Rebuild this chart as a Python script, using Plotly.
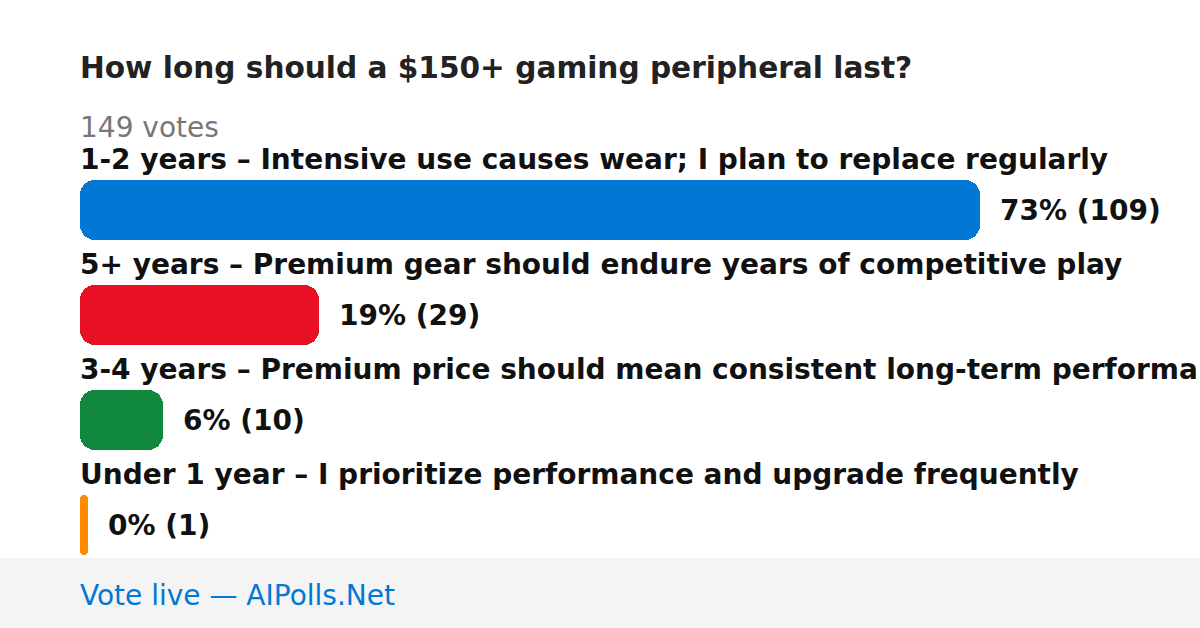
import plotly.graph_objects as go

title = "How long should a $150+ gaming peripheral last?"
total_votes = 149
labels = [
    "1-2 years – Intensive use causes wear; I plan to replace regularly",
    "5+ years – Premium gear should endure years of competitive play",
    "3-4 years – Premium price should mean consistent long-term performance",
    "Under 1 year – I prioritize performance and upgrade frequently",
]
votes = [109, 29, 10, 1]
percents = [73, 19, 6, 0]
colors = ["#0078d4", "#e81123", "#10893e", "#ff8c00"]
footer_text = "Vote live — AIPolls.Net"

W, H = 1200, 628
left = 80
bar_full_px = 900
row_px = 105
first_center_px = 210
bar_px = 60
label_offset_px = 51
pad_fix = -2

max_v = max(votes)
plot_w = W - left
x_max = max_v * plot_w / bar_full_px
ys = list(range(len(votes)))
y_top = -first_center_px / row_px
y_bot = (H - first_center_px) / row_px
thick = bar_px / row_px

fig = go.Figure()
fig.add_trace(go.Bar(
    y=ys, x=votes, base=[0] * len(votes), orientation="h", width=thick,
    marker=dict(color=colors, line=dict(width=0), cornerradius=15),
    hoverinfo="skip", showlegend=False,
))

FONT = "DejaVu Sans"
annotations = []
for i, (lab, v, p) in enumerate(zip(labels, votes, percents)):
    annotations.append(dict(
        x=0, y=i - label_offset_px / row_px, xref="x", yref="y", xshift=pad_fix,
        text=lab, showarrow=False, xanchor="left", yanchor="middle",
        font=dict(family=FONT, size=28, color="#111111", weight="bold"),
    ))
    annotations.append(dict(
        x=v, y=i, xref="x", yref="y", xshift=20 + pad_fix,
        text=f"{p}% ({v})", showarrow=False, xanchor="left", yanchor="middle",
        font=dict(family=FONT, size=28, color="#111111", weight="bold"),
    ))

annotations.append(dict(
    x=0, y=1 - 68 / H, xref="paper", yref="paper", xshift=pad_fix,
    text=title, showarrow=False, xanchor="left", yanchor="middle",
    font=dict(family=FONT, size=29.6, color="#222222", weight="bold"),
))
annotations.append(dict(
    x=0, y=1 - 127 / H, xref="paper", yref="paper", xshift=pad_fix,
    text=f"{total_votes} votes", showarrow=False, xanchor="left", yanchor="middle",
    font=dict(family=FONT, size=28, color="#777777"),
))
annotations.append(dict(
    x=0, y=1 - 595 / H, xref="paper", yref="paper", xshift=pad_fix,
    text=footer_text, showarrow=False, xanchor="left", yanchor="middle",
    font=dict(family=FONT, size=28, color="#0078d4"),
))

fig.update_layout(
    width=W, height=H,
    margin=dict(l=left, r=0, t=0, b=0),
    paper_bgcolor="#ffffff", plot_bgcolor="rgba(0,0,0,0)",
    barmode="overlay", bargap=0,
    xaxis=dict(range=[0, x_max], visible=False, fixedrange=True),
    yaxis=dict(range=[y_bot, y_top], visible=False, fixedrange=True),
    annotations=annotations,
    shapes=[dict(
        type="rect", xref="paper", yref="paper", x0=-left / plot_w, x1=1,
        y0=0, y1=70 / H, fillcolor="#f4f4f4", line=dict(width=0), layer="below",
    )],
)

fig.write_html("out.html", config={"displayModeBar": False},
               post_script="document.body.style.margin='0';")
